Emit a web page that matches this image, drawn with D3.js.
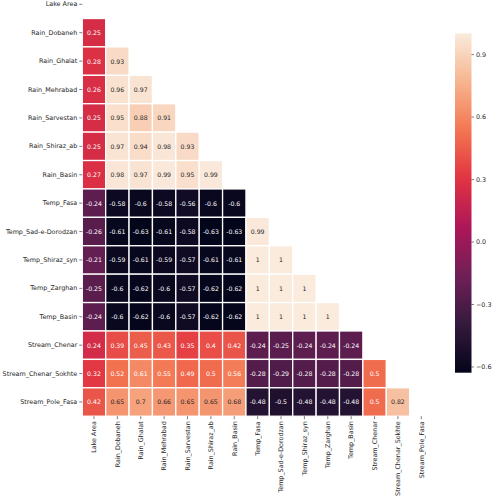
<!DOCTYPE html>
<html>
<head>
<meta charset="utf-8">
<script src="https://cdn.jsdelivr.net/npm/d3@7"></script>
<style>
  html, body { margin: 0; padding: 0; background: #fff; }
  svg { display: block; }
  text { font-family: "DejaVu Sans", sans-serif; }
</style>
</head>
<body>
<svg id="chart" width="493" height="500"></svg>
<script>
// ---- data ----
const variables = ["Lake Area", "Rain_Dobaneh", "Rain_Ghalat", "Rain_Mehrabad", "Rain_Sarvestan",
  "Rain_Shiraz_ab", "Rain_Basin", "Temp_Fasa", "Temp_Sad-e-Dorodzan", "Temp_Shiraz_syn",
  "Temp_Zarghan", "Temp_Basin", "Stream_Chenar", "Stream_Chenar_Sokhte", "Stream_Pole_Fasa"];

// lower triangle rows (row i has values for columns 0..i-1)
const corrRows = [
  [],
  [0.25],
  [0.28, 0.93],
  [0.26, 0.96, 0.97],
  [0.25, 0.95, 0.88, 0.91],
  [0.25, 0.97, 0.94, 0.98, 0.93],
  [0.27, 0.98, 0.97, 0.99, 0.95, 0.99],
  [-0.24, -0.58, -0.6, -0.58, -0.56, -0.6, -0.6],
  [-0.26, -0.61, -0.63, -0.61, -0.58, -0.63, -0.63, 0.99],
  [-0.21, -0.59, -0.61, -0.59, -0.57, -0.61, -0.61, 1, 1],
  [-0.25, -0.6, -0.62, -0.6, -0.57, -0.62, -0.62, 1, 1, 1],
  [-0.24, -0.6, -0.62, -0.6, -0.57, -0.62, -0.62, 1, 1, 1, 1],
  [0.24, 0.39, 0.45, 0.43, 0.35, 0.4, 0.42, -0.24, -0.25, -0.24, -0.24, -0.24],
  [0.32, 0.52, 0.61, 0.55, 0.49, 0.5, 0.56, -0.28, -0.29, -0.28, -0.28, -0.28, 0.5],
  [0.42, 0.65, 0.7, 0.66, 0.65, 0.65, 0.68, -0.48, -0.5, -0.48, -0.48, -0.48, 0.5, 0.82]
];

const colorbarTicks = [-0.6, -0.3, 0.0, 0.3, 0.6, 0.9];
const rocketStops = ["#03051a", "#35193e", "#701f57", "#ad1759", "#e13342", "#f37651", "#f6b48f", "#faebdd"];

// ---- build cells ----
const cells = [];
corrRows.forEach((row, i) => row.forEach((v, j) => cells.push({ row: variables[i], col: variables[j], value: v })));

const vmin = d3.min(cells, d => d.value);
const vmax = d3.max(cells, d => d.value);

const svg = d3.select("#chart");

const x = d3.scaleBand().domain(variables).range([82.3, 433]).paddingInner(0);
const y = d3.scaleBand().domain(variables).range([-9.9, 416.2]).paddingInner(0);

const norm = d3.scaleLinear().domain([vmin, vmax]).range([0, 1]).clamp(true);
const rocket = d3.scaleLinear()
  .domain(rocketStops.map((_, i) => i / (rocketStops.length - 1)))
  .range(rocketStops)
  .interpolate(d3.interpolateRgb);
const color = v => rocket(norm(v));

function relLum(c) {
  const rgb = d3.rgb(c);
  const f = u => { u /= 255; return u <= 0.03928 ? u / 12.92 : Math.pow((u + 0.055) / 1.055, 2.4); };
  return 0.2126 * f(rgb.r) + 0.7152 * f(rgb.g) + 0.0722 * f(rgb.b);
}
const fmt = v => {
  let s = d3.format(".2")(v);
  return s.replace("−", "-");
};

// cells
const g = svg.append("g");
g.selectAll("rect.cell").data(cells).join("rect")
  .attr("class", "cell")
  .attr("x", d => x(d.col))
  .attr("y", d => y(d.row))
  .attr("width", x.bandwidth())
  .attr("height", y.bandwidth())
  .attr("fill", d => color(d.value))
  .attr("stroke", "#fff")
  .attr("stroke-width", 1.3);

g.selectAll("text.annot").data(cells).join("text")
  .attr("class", "annot")
  .attr("x", d => x(d.col) + x.bandwidth() / 2)
  .attr("y", d => y(d.row) + y.bandwidth() / 2)
  .attr("text-anchor", "middle")
  .attr("dominant-baseline", "central")
  .attr("font-size", 6.2)
  .attr("fill", d => relLum(color(d.value)) > 0.408 ? "#262626" : "#ffffff")
  .text(d => fmt(d.value));

// y axis
const yAxis = d3.axisLeft(y).tickSize(3).tickPadding(2);
const yg = svg.append("g").attr("transform", "translate(82.3,0)").call(yAxis);
yg.select(".domain").remove();
yg.selectAll("text").attr("font-size", 6.4).attr("fill", "#262626").attr("font-family", "DejaVu Sans");
yg.selectAll("line").attr("stroke", "#262626").attr("stroke-width", 0.6);

// x axis
const xAxis = d3.axisBottom(x).tickSize(3).tickPadding(2);
const xg = svg.append("g").attr("transform", "translate(0,416.2)").call(xAxis);
xg.select(".domain").remove();
xg.selectAll("line").attr("stroke", "#262626").attr("stroke-width", 0.6);
xg.selectAll("text")
  .attr("font-size", 6.4).attr("fill", "#262626").attr("font-family", "DejaVu Sans")
  .attr("transform", "rotate(-90)")
  .attr("text-anchor", "end")
  .attr("dy", "0.35em")
  .attr("x", -5)
  .attr("y", 0);

// colorbar
const cbX = 455, cbW = 16.5, cbTop = 33.3, cbBot = 372.7;
const cy = d3.scaleLinear().domain([vmin, vmax]).range([cbBot, cbTop]);
const defs = svg.append("defs");
const grad = defs.append("linearGradient").attr("id", "cbgrad")
  .attr("x1", 0).attr("y1", 1).attr("x2", 0).attr("y2", 0);
d3.range(0, 1.0001, 0.02).forEach(t => {
  grad.append("stop").attr("offset", t).attr("stop-color", rocket(t));
});
svg.append("rect")
  .attr("x", cbX).attr("y", cbTop).attr("width", cbW).attr("height", cbBot - cbTop)
  .attr("fill", "url(#cbgrad)");

const cAxis = d3.axisRight(cy).tickValues(colorbarTicks).tickSize(2.5).tickPadding(2)
  .tickFormat(d => d3.format(".1f")(d).replace("-", "−"));
const cg = svg.append("g").attr("transform", `translate(${cbX + cbW},0)`).call(cAxis);
cg.select(".domain").remove();
cg.selectAll("text").attr("font-size", 6.4).attr("fill", "#262626").attr("font-family", "DejaVu Sans");
cg.selectAll("line").attr("stroke", "#262626").attr("stroke-width", 0.6);
</script>
</body>
</html>
